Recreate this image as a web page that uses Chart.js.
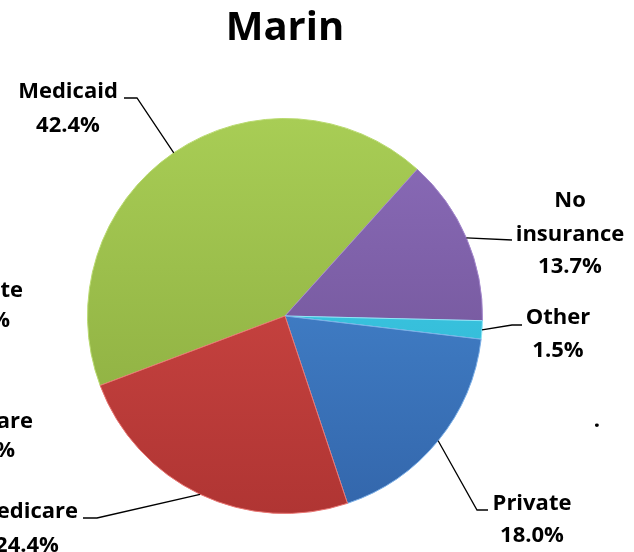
<!DOCTYPE html>
<html>
<head>
<meta charset="utf-8">
<script src="https://cdn.jsdelivr.net/npm/chart.js@4"></script>
<style>
  body { margin: 0; background: #fff; }
  #wrap { width: 634px; height: 552px; }
</style>
</head>
<body>
<div id="wrap"><canvas id="pieChart" width="634" height="552"></canvas></div>
<script>
// Data
const labels = ['Medicaid', 'No insurance', 'Other', 'Private', 'Medicare'];
const shares = [42.4, 13.7, 1.5, 18.0, 24.4];
const titleText = 'Marin';

// Colours (light top, dark bottom)
const topColors = ['#a8cd55', '#8b6cba', '#45d3ee', '#4a8fd9', '#d74c49'];
const bottomColors = ['#88a83d', '#694d8c', '#2aaecb', '#3366ab', '#b03533'];
const edgeColors = ['#b9da70', '#a386cc', '#8ee6f6', '#7aaee6', '#e87572'];

// Label layout: text lines, text centre x, baselines, leader elbow and end
const labelLayout = [
  { lines: ['Medicaid', '42.4%'], cx: 68, ys: [98, 132], elbow: [137, 98], end: [124, 98] },
  { lines: ['No', 'insurance', '13.7%'], cx: 570, ys: [207, 241, 273], elbow: [512, 240], end: [512, 240] },
  { lines: ['Other', '1.5%'], cx: 558, ys: [324, 357], elbow: [512, 325], end: [522, 325] },
  { lines: ['Private', '18.0%'], cx: 532, ys: [510, 542], elbow: [477, 510], end: [488, 510] },
  { lines: ['Medicare', '24.4%'], cx: 27, ys: [518, 552], elbow: [97, 518], end: [83, 518] }
];

const labelFont = 'bold 22px "Open Sans", sans-serif';

const labelPlugin = {
  id: 'outsideLabels',
  afterDatasetsDraw(chart) {
    const ctx = chart.ctx;
    const arcs = chart.getDatasetMeta(0).data;
    ctx.save();
    // leader lines
    ctx.strokeStyle = '#000';
    ctx.lineWidth = 1.3;
    arcs.forEach((arc, i) => {
      const p = arc.getProps(['x', 'y', 'startAngle', 'endAngle', 'outerRadius'], true);
      const mid = (p.startAngle + p.endAngle) / 2;
      const sx = p.x + Math.cos(mid) * p.outerRadius;
      const sy = p.y + Math.sin(mid) * p.outerRadius;
      const l = labelLayout[i];
      ctx.beginPath();
      ctx.moveTo(sx, sy);
      ctx.lineTo(l.elbow[0], l.elbow[1]);
      ctx.lineTo(l.end[0], l.end[1]);
      ctx.stroke();
    });
    // label text
    ctx.fillStyle = '#000';
    ctx.font = labelFont;
    ctx.textAlign = 'center';
    ctx.textBaseline = 'alphabetic';
    labelLayout.forEach(l => {
      l.lines.forEach((t, k) => ctx.fillText(t, l.cx, l.ys[k]));
    });
    // fragments of the neighbouring chart cut at the left edge
    ctx.textAlign = 'right';
    ctx.fillText('te', 23, 297);
    ctx.fillText('%', 10, 327);
    ctx.fillText('are', 33, 428);
    ctx.fillText('%', 15, 457);
    ctx.textAlign = 'center';
    ctx.fillText('.', 597, 427);
    // title
    ctx.font = 'bold 40px "Open Sans", sans-serif';
    ctx.fillText(titleText, 285, 40);
    ctx.restore();
  }
};

function sliceFill(context) {
  const chart = context.chart;
  const area = chart.chartArea;
  const i = context.dataIndex;
  if (!area) return topColors[i];
  const g = chart.ctx.createLinearGradient(0, area.top, 0, area.bottom);
  g.addColorStop(0, topColors[i]);
  g.addColorStop(1, bottomColors[i]);
  return g;
}

const config = {
  type: 'pie',
  data: {
    labels: labels,
    datasets: [{
      data: shares,
      backgroundColor: sliceFill,
      borderColor: edgeColors,
      borderWidth: 1
    }]
  },
  options: {
    responsive: false,
    animation: false,
    rotation: -110.6,
    layout: { padding: { left: 87, right: 151, top: 118, bottom: 38 } },
    plugins: {
      legend: { display: false },
      tooltip: { enabled: false }
    }
  },
  plugins: [labelPlugin]
};

const ctx = document.getElementById('pieChart').getContext('2d');
const myChart = new Chart(ctx, config);
</script>
</body>
</html>
